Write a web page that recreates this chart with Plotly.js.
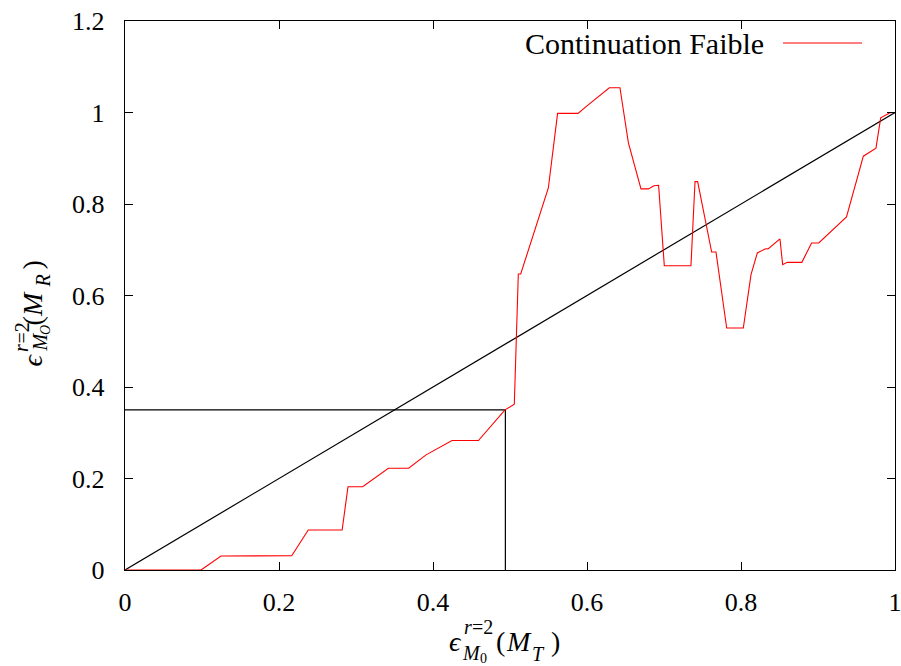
<!DOCTYPE html>
<html>
<head>
<meta charset="utf-8">
<script src="https://cdn.plot.ly/plotly-3.0.1.min.js"></script>
<style>html,body{margin:0;padding:0;background:#fff;}#chart{width:901px;height:666px;}</style>
</head>
<body>
<div id="chart"></div>
<script>
// Red curve: "Continuation Faible"
const weakX = [0, 0.0987, 0.1247, 0.2165, 0.238, 0.282, 0.2896, 0.3087, 0.342, 0.3684, 0.391, 0.4247, 0.459, 0.4935, 0.5056, 0.5108, 0.5139, 0.5498, 0.5618, 0.5883, 0.5996, 0.629, 0.6428, 0.6537, 0.6701, 0.6797, 0.6869, 0.693, 0.7004, 0.735, 0.7403, 0.7437, 0.7619, 0.7675, 0.7814, 0.803, 0.813, 0.8212, 0.8312, 0.8355, 0.8506, 0.8541, 0.860, 0.879, 0.8917, 0.901, 0.937, 0.9589, 0.9753, 0.9814, 0.9935, 1.0];
const weakY = [0, 0, 0.0306, 0.031, 0.0875, 0.0875, 0.182, 0.182, 0.2225, 0.2225, 0.2516, 0.283, 0.283, 0.350, 0.3625, 0.647, 0.647, 0.835, 0.998, 0.998, 1.014, 1.054, 1.054, 0.934, 0.833, 0.833, 0.840, 0.841, 0.665, 0.665, 0.849, 0.849, 0.695, 0.695, 0.529, 0.529, 0.6455, 0.693, 0.7017, 0.7024, 0.7236, 0.6674, 0.6725, 0.6725, 0.7148, 0.7148, 0.7717, 0.9045, 0.922, 0.9884, 0.9993, 1.0];
// Diagonal reference y = x
const diagX = [0, 1];
const diagY = [0, 1];
// Guide lines at threshold
const guideX = [0, 0.494, 0.494];
const guideY = [0.35, 0.35, 0];
// Axis ticks
const xTicks = [0, 0.2, 0.4, 0.6, 0.8, 1];
const xTickLabels = ["0", "0.2", "0.4", "0.6", "0.8", "1"];
const yTicks = [0, 0.2, 0.4, 0.6, 0.8, 1, 1.2];
const yTickLabels = ["0", "0.2", "0.4", "0.6", "0.8", "1", "1.2"];
const legendLabel = "Continuation Faible";

const BASEFONT = 'DejaVu Sans Mono';
const SERIF = '"Liberation Serif"';
const L = 125, B = 570; // plot left / bottom in px

const traces = [
  {x: diagX, y: diagY, mode: 'lines', line: {color: '#000000', width: 1.2}, hoverinfo: 'skip', showlegend: false},
  {x: guideX, y: guideY, mode: 'lines', line: {color: '#000000', width: 1.2}, hoverinfo: 'skip', showlegend: false},
  {x: weakX, y: weakY, mode: 'lines', name: legendLabel, line: {color: '#ff0000', width: 1.1}, showlegend: false}
];

function fontFor(size, italic) {
  const f = {family: SERIF, size: size, color: '#000'};
  if (italic) f.style = 'italic';
  return f;
}
// horizontal text piece: left edge px, vertical middle py
function hpiece(text, px, py, size, italic) {
  return {
    text: text, xref: 'paper', yref: 'paper', x: 0, y: 0,
    xshift: px - L, yshift: B - py, showarrow: false,
    font: fontFor(size, italic),
    xanchor: 'left', yanchor: 'middle', borderpad: 0
  };
}
// rotated text piece (reads upward): center x px, start (bottom) py
function vpiece(text, px, py, size, italic) {
  return {
    text: text, xref: 'paper', yref: 'paper', x: 0, y: 0, textangle: -90,
    xshift: px - L, yshift: B - py, showarrow: false,
    font: fontFor(size, italic),
    xanchor: 'center', yanchor: 'bottom', borderpad: 0
  };
}

const annotations = [
  // x-axis title: ϵ^{r=2}_{M0}(M_T)
  hpiece('ϵ', 448, 641, 28, true),
  hpiece('r', 463, 627, 20, true),
  hpiece('=2', 471, 627, 20, false),
  hpiece('M', 461, 653, 20, true),
  hpiece('0', 479, 658, 14, false),
  hpiece('(', 495, 641, 28, false),
  hpiece('M', 505, 641, 28, true),
  hpiece('T', 531, 654, 20, true),
  hpiece(')', 550, 641, 28, false),
  // y-axis title (rotated): ϵ^{r=2}_{MO}(M_R)
  vpiece('ϵ', 32, 368, 28, true),
  vpiece('r', 21, 353, 20, true),
  vpiece('=2', 21, 345, 20, false),
  vpiece('M', 39, 353, 20, true),
  vpiece('O', 45, 336, 14, true),
  vpiece('(', 32, 327, 28, false),
  vpiece('M', 32, 318, 28, true),
  vpiece('R', 42, 289, 20, true),
  vpiece(')', 32, 271, 28, false),
  // legend text
  Object.assign(hpiece(legendLabel, 765, 43, 30, false), {xanchor: 'right'})
];

const layout = {
  width: 901, height: 666,
  margin: {l: 125, r: 6, t: 21, b: 96, pad: 0},
  paper_bgcolor: '#fff', plot_bgcolor: '#fff',
  showlegend: false,
  font: {family: BASEFONT, size: 26, color: '#000'},
  xaxis: {
    range: [0, 1], tickvals: xTicks, ticktext: xTickLabels,
    ticks: 'inside', ticklen: 8, tickcolor: '#000', tickwidth: 1,
    showline: true, linecolor: '#000', linewidth: 1.3, mirror: 'allticks',
    showgrid: false, zeroline: false, ticklabelstandoff: 8, ticklabeloverflow: 'allow',
    tickfont: {family: SERIF, size: 26, color: '#000'}
  },
  yaxis: {
    range: [0, 1.2], tickvals: yTicks, ticktext: yTickLabels,
    ticks: 'inside', ticklen: 8, tickcolor: '#000', tickwidth: 1,
    showline: true, linecolor: '#000', linewidth: 1.3, mirror: 'allticks',
    showgrid: false, zeroline: false, ticklabelstandoff: 14, ticklabeloverflow: 'allow',
    tickfont: {family: SERIF, size: 26, color: '#000'}
  },
  annotations: annotations,
  shapes: [
    {type: 'line', xref: 'paper', yref: 'paper', x0: (783 - L) / 770, x1: (862 - L) / 770,
     y0: (B - 43) / 549, y1: (B - 43) / 549, line: {color: '#ff0000', width: 1.1}}
  ]
};

Plotly.newPlot('chart', traces, layout, {staticPlot: true, displayModeBar: false});
</script>
</body>
</html>
